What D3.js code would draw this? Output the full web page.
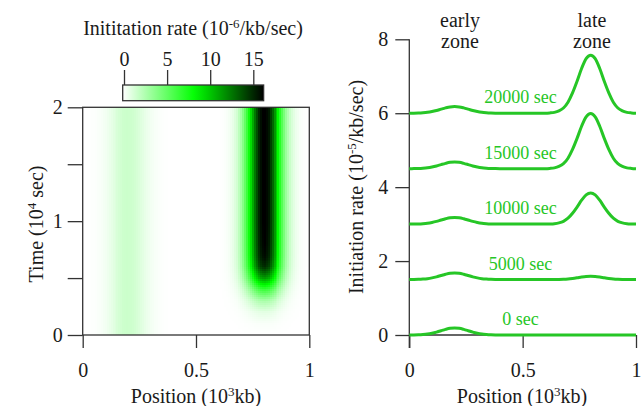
<!DOCTYPE html>
<html>
<head>
<meta charset="utf-8">
<script src="https://cdn.jsdelivr.net/npm/d3@7"></script>
<style>
  body { margin: 0; background: #fff; }
  svg text { font-family: "Liberation Serif", "Times New Roman", Times, "DejaVu Serif", serif; fill: #1a1a1a; }
</style>
</head>
<body>
<svg id="fig" width="642" height="406"></svg>
<script>
"use strict";

// Colour bar (10^-6/kb/sec)
var barTicks = [0, 5, 10, 15];
var barMax = 16.2;

// Shape of the two zones along the position (10^3 kb), peak = 1
var earlyX     = [0, 0.02, 0.04, 0.06, 0.08, 0.10, 0.12, 0.14, 0.16, 0.18, 0.20,
                  0.22, 0.24, 0.26, 0.28, 0.30, 0.32, 0.34, 0.36, 0.38, 0.40];
var earlyShape = [0, 0.01, 0.03, 0.07, 0.135, 0.25, 0.41, 0.61, 0.80, 0.95, 1,
                  0.95, 0.80, 0.61, 0.41, 0.25, 0.135, 0.07, 0.03, 0.01, 0];
var lateX      = [0.60, 0.62, 0.64, 0.66, 0.68, 0.70, 0.72, 0.74, 0.76, 0.78, 0.80,
                  0.82, 0.84, 0.86, 0.88, 0.90, 0.92, 0.94, 0.96, 0.98, 1.0];
var lateShape  = [0, 0.005, 0.015, 0.04, 0.09, 0.19, 0.35, 0.55, 0.77, 0.94, 1,
                  0.94, 0.77, 0.55, 0.35, 0.19, 0.09, 0.04, 0.015, 0.005, 0];

// Heat map: early zone steady, late zone grows with time (10^4 sec)
var heatEarly = 1.7;
var heatT    = [0, 0.1, 0.2, 0.3, 0.4, 0.5, 0.6, 0.7, 0.8, 0.9, 1.0, 2.0];
var heatLate = [0, 0.2, 0.9, 2.8, 6.5, 11.5, 15.0, 16.0, 16.3, 16.4, 16.5, 16.5];

// Snapshots on the right (10^-5/kb/sec), stacked by offset
var snapLabels = ["0 sec", "5000 sec", "10000 sec", "15000 sec", "20000 sec"];
var snapOffset = [0, 1.5, 3, 4.5, 6];
var snapEarly  = [0.19, 0.18, 0.18, 0.18, 0.18];
var snapLate   = [0, 0.09, 0.84, 1.49, 1.57];

var axisColor = "#333";
var green = "#26c626";

// piecewise lookup in a sampled shape, zero outside
function lookup(xs, ys, x) {
  if (x <= xs[0] || x >= xs[xs.length - 1]) return 0;
  var i = d3.bisectRight(xs, x) - 1;
  var f = (x - xs[i]) / (xs[i + 1] - xs[i]);
  return ys[i] + f * (ys[i + 1] - ys[i]);
}

// text with a superscript part: parts = [[text], [sup, true], ...]
function richText(sel, parts) {
  var up = false;
  parts.forEach(function(p) {
    var t = sel.append("tspan").text(p[0]);
    if (p[1]) { t.attr("dy", "-0.55em").attr("font-size", "0.65em"); up = true; }
    else if (up) { t.attr("dy", "0.36em"); up = false; }
  });
}

window.onload = function() {
  var svg = d3.select("#fig");

  // ---------- left: heat map ----------
  var xH = d3.scaleLinear().domain([0, 1]).range([82.7, 309.3]);
  var yH = d3.scaleLinear().domain([0, 2]).range([335, 107.3]);
  var color = d3.scaleLinear().domain([0, 8.3, barMax])
                .range(["#ffffff", "#00ff00", "#000000"]).clamp(true);
  var tAmp = d3.scaleLinear().domain(heatT).range(heatLate);

  var nx = 114, ny = 114;
  var cells = [];
  for (var j = 0; j < ny; j++) {
    for (var i = 0; i < nx; i++) {
      var x = (i + 0.5) / nx, t = 2 * (j + 0.5) / ny;
      var v = heatEarly * lookup(earlyX, earlyShape, x) + tAmp(t) * lookup(lateX, lateShape, x);
      cells.push({x0: i / nx, x1: (i + 1) / nx, t0: 2 * j / ny, t1: 2 * (j + 1) / ny, v: v});
    }
  }
  svg.append("g").selectAll("rect").data(cells).join("rect")
     .attr("x", function(d) { return xH(d.x0); })
     .attr("y", function(d) { return yH(d.t1); })
     .attr("width", function(d) { return xH(d.x1) - xH(d.x0) + 0.4; })
     .attr("height", function(d) { return yH(d.t0) - yH(d.t1) + 0.4; })
     .attr("fill", function(d) { return color(d.v); })
     .attr("shape-rendering", "crispEdges");

  svg.append("rect")
     .attr("x", xH(0)).attr("y", yH(2))
     .attr("width", xH(1) - xH(0)).attr("height", yH(0) - yH(2))
     .attr("fill", "none").attr("stroke", axisColor).attr("stroke-width", 1.3);

  var axLeft = svg.append("g").attr("transform", "translate(" + xH(0) + ",0)")
     .call(d3.axisLeft(yH).tickValues([0, 0.5, 1, 1.5, 2])
           .tickFormat(function(d) { return d % 1 ? "" : d; })
           .tickSize(15).tickPadding(5));
  var axBottom = svg.append("g").attr("transform", "translate(0," + yH(0) + ")")
     .call(d3.axisBottom(xH).tickValues([0, 0.5, 1])
           .tickFormat(function(d) { return String(d); })
           .tickSize(13).tickPadding(15));

  // colour bar
  var xB = d3.scaleLinear().domain([0, 15]).range([124, 253.3]);
  var grad = svg.append("defs").append("linearGradient").attr("id", "cbar");
  d3.range(0, 11).forEach(function(k) {
    grad.append("stop").attr("offset", (k * 10) + "%")
        .attr("stop-color", color(barMax * k / 10));
  });
  svg.append("rect")
     .attr("x", xB(0) - 1.3).attr("y", 85)
     .attr("width", xB(barMax) - xB(0) + 1.3).attr("height", 15.7)
     .attr("fill", "url(#cbar)").attr("stroke", axisColor).attr("stroke-width", 1.3);
  var axBar = svg.append("g").attr("transform", "translate(0,85)")
     .call(d3.axisTop(xB).tickValues(barTicks).tickSize(15).tickPadding(4)
           .tickFormat(function(d) { return String(d); }));

  // ---------- right: snapshots ----------
  var xR = d3.scaleLinear().domain([0, 1]).range([409.3, 636]);
  var yR = d3.scaleLinear().domain([0, 8]).range([335, 39.3]);

  // x axis line sits under the curves
  svg.append("line").attr("x1", xR(0)).attr("x2", xR(1))
     .attr("y1", yR(0)).attr("y2", yR(0))
     .attr("stroke", axisColor).attr("stroke-width", 1.3);

  var axRX = svg.append("g").attr("transform", "translate(0," + yR(0) + ")")
     .call(d3.axisBottom(xR).tickValues([0, 0.5, 1])
           .tickFormat(function(d) { return String(d); })
           .tickSize(13).tickPadding(15));
  var axRY = svg.append("g").attr("transform", "translate(" + xR(0) + ",0)")
     .call(d3.axisLeft(yR).tickValues([0, 2, 4, 6, 8]).tickSize(14).tickPadding(7));

  svg.append("line").attr("x1", xR(0)).attr("x2", xR(0))
     .attr("y1", yR(8)).attr("y2", yR(0) + 13)
     .attr("stroke", axisColor).attr("stroke-width", 1.3);

  var grid = earlyX.concat(lateX).filter(function(d, k, a) { return a.indexOf(d) === k; });
  grid.sort(d3.ascending);
  var line = d3.line()
     .x(function(d) { return xR(d[0]); })
     .y(function(d) { return yR(d[1]); })
     .curve(d3.curveMonotoneX);

  snapLabels.forEach(function(lbl, s) {
    var pts = grid.map(function(x) {
      return [x, snapOffset[s] + snapEarly[s] * lookup(earlyX, earlyShape, x)
                               + snapLate[s] * lookup(lateX, lateShape, x)];
    });
    svg.append("path").attr("d", line(pts))
       .attr("fill", "none").attr("stroke", green).attr("stroke-width", 3);
    svg.append("text")
       .attr("x", xR(0.49)).attr("y", yR(snapOffset[s]) - 10)
       .attr("text-anchor", "middle").attr("font-size", 18)
       .style("fill", green).text(lbl);
  });

  // style all axes
  [axLeft, axBottom, axBar, axRX, axRY].forEach(function(a) {
    a.attr("font-family", null);
    a.select(".domain").remove();
    a.selectAll("line").attr("stroke", axisColor).attr("stroke-width", 1.3);
    a.selectAll("text").attr("font-size", 20).style("fill", "#1a1a1a");
  });

  // zone labels
  [["early", 460, 26.7], ["zone", 460, 48.3], ["late", 592, 26.7], ["zone", 592, 48.3]]
    .forEach(function(z) {
      svg.append("text").attr("x", z[1]).attr("y", z[2])
         .attr("text-anchor", "middle").attr("font-size", 20).text(z[0]);
    });

  // titles
  richText(svg.append("text").attr("x", 193).attr("y", 35)
              .attr("text-anchor", "middle").attr("font-size", 20),
           [["Inititation rate (10"], ["-6", true], ["/kb/sec)"]]);
  richText(svg.append("text").attr("x", 196).attr("y", 403)
              .attr("text-anchor", "middle").attr("font-size", 20),
           [["Position (10"], ["3", true], ["kb)"]]);
  richText(svg.append("text").attr("x", 522).attr("y", 403)
              .attr("text-anchor", "middle").attr("font-size", 20),
           [["Position (10"], ["3", true], ["kb)"]]);
  richText(svg.append("text").attr("transform", "translate(43,224) rotate(-90)")
              .attr("text-anchor", "middle").attr("font-size", 20),
           [["Time (10"], ["4", true], [" sec)"]]);
  richText(svg.append("text").attr("transform", "translate(363,187) rotate(-90)")
              .attr("text-anchor", "middle").attr("font-size", 20),
           [["Initiation rate (10"], ["-5", true], ["/kb/sec)"]]);
};
</script>
</body>
</html>
